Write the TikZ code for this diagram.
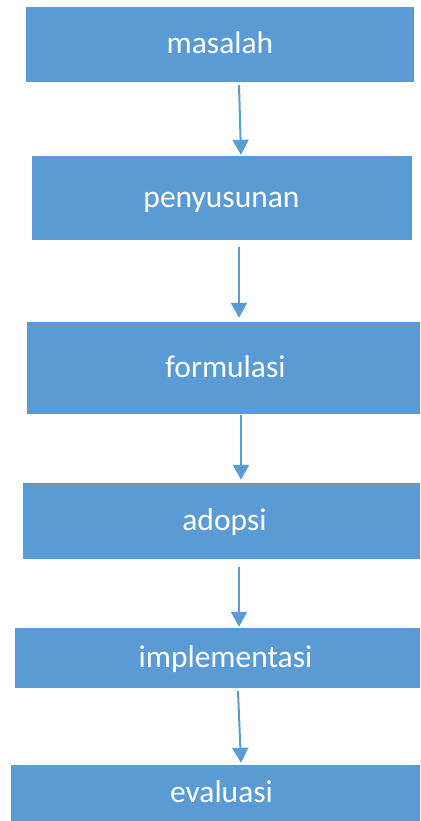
\documentclass[tikz,border=0pt]{standalone}
\usepackage{fontspec}
\setmainfont{Carlito}
\usetikzlibrary{arrows.meta}
\definecolor{boxblue}{HTML}{5B9BD5}
\begin{document}
\begin{tikzpicture}[x=1pt,y=1pt,
  box/.style={fill=boxblue, draw=none, inner sep=0pt},
  txt/.style={text=white, inner sep=0pt,
    font=\fontsize{31.5}{36}\selectfont, text height=22pt, text depth=3pt},
  flow/.style={draw=boxblue, line width=2pt, -{Triangle[width=16pt,length=15pt]}}]
\useasboundingbox (0,0) rectangle (420,-821);
\node[box, minimum width=388pt, minimum height=75pt,
  label={[txt]center:masalah}] (b1) at (220,-44.5) {};
\node[box, minimum width=380pt, minimum height=84pt,
  label={[txt,xshift=-0.5pt]center:penyusunan}] (b2) at (222,-198) {};
\node[box, minimum width=393pt, minimum height=92pt,
  label={[txt,xshift=2pt]center:formulasi}] (b3) at (223.5,-368) {};
\node[box, minimum width=397pt, minimum height=76pt,
  label={[txt,xshift=3pt]center:adopsi}] (b4) at (221.5,-521) {};
\node[box, minimum width=405pt, minimum height=60pt,
  label={[txt,xshift=8pt]center:implementasi}] (b5) at (217.5,-658) {};
\node[box, minimum width=409pt, minimum height=56pt,
  label={[txt,xshift=6pt]center:evaluasi}] (b6) at (215.5,-793) {};
\draw[flow] ([xshift=19pt,yshift=-3pt]b1.south) -- ([xshift=19pt,yshift=1pt]b2.north);
\draw[flow] ([xshift=17pt,yshift=-7pt]b2.south) -- ([xshift=15.5pt,yshift=4pt]b3.north);
\draw[flow] ([xshift=17.5pt,yshift=-1pt]b3.south) -- ([xshift=19.5pt,yshift=3pt]b4.north);
\draw[flow] ([xshift=17.5pt,yshift=-8pt]b4.south) -- ([xshift=21.5pt,yshift=1pt]b5.north);
\draw[flow] ([xshift=20.5pt,yshift=-3pt]b5.south) -- ([xshift=25.5pt,yshift=2pt]b6.north);
\end{tikzpicture}
\end{document}
